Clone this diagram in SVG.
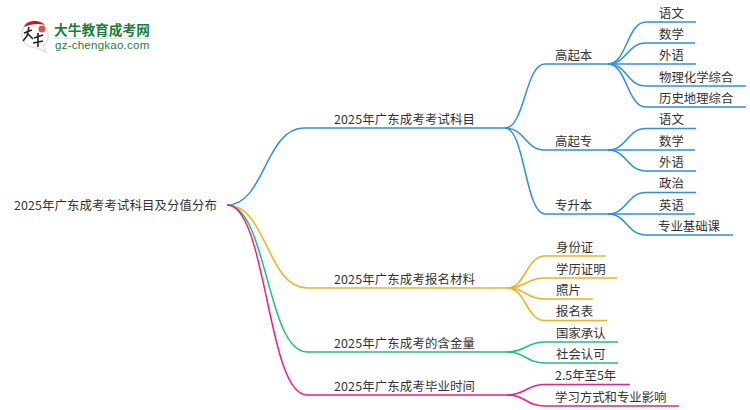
<svg xmlns="http://www.w3.org/2000/svg" width="750" height="410" viewBox="0 0 750 410">
<style>
text{font-family:"Noto Sans CJK SC","Liberation Sans",sans-serif;font-size:12.4px;fill:#333}
.c{fill:none;stroke-width:1.5}
.b{stroke:#2a8cff}.o{stroke:#fbae17}.g{stroke:#14c87a}.p{stroke:#fb1a7e}
</style>
<rect width="750" height="410" fill="#fff"/>
<g id="logo">
<path d="M33 21C26 21 22 27 22 34C22 43 29 48 37 48L46 52L43 46C47 43 49 39 48 33C47 26 41 21 33 21Z" fill="#fff" stroke="#ddd" stroke-width="1.2"/>
<path d="M24 27C27 20 39 19 45 25C38 23 31 24 24 27Z" fill="#c8161d"/>
<circle cx="42" cy="29" r="3.5" fill="#d9534f"/>
<path d="M24 33L32 30M29 27L27 36L23 41M28 34L33 39M34 38L43 35M38 33V47M33 43L43 41" fill="none" stroke="#222" stroke-width="1.6"/>
<text x="54" y="35" style="font-size:13.7px;font-weight:700;fill:#1a7f37">大牛教育成考网</text>
<rect x="54" y="38" width="96" height="1" fill="#dce8dc"/>
<text x="55" y="49" style="font-family:'Liberation Sans',sans-serif;font-size:11.5px;fill:#1a7f37;letter-spacing:.25px">gz-chengkao.com</text>
</g>
<g id="connectors">
<path class="c b" d="M227 205C265 205 265 128 304 128H505"/>
<path class="c o" d="M227 205C267 205 267 288 307 288H507"/>
<path class="c g" d="M227 205C267 205 267 352 307 352H507"/>
<path class="c p" d="M227 205C267 205 267 395 307 395H507"/>
<path class="c b" d="M505 128C525 128 525 64 545 64H608"/>
<path class="c b" d="M505 128C525 128 525 150 545 150H608"/>
<path class="c b" d="M505 128C525 128 525 214 545 214H608"/>
<path class="c b" d="M608 64C627 64 627 22 646 22H696"/>
<path class="c b" d="M608 64C627 64 627 43 646 43H695"/>
<path class="c b" d="M608 64H696"/>
<path class="c b" d="M608 64C627 64 627 86 646 86H746"/>
<path class="c b" d="M608 64C627 64 627 107 646 107H746"/>
<path class="c b" d="M608 150C627 150 627 128.500 646 128.500H696"/>
<path class="c b" d="M608 150H695"/>
<path class="c b" d="M608 150C627 150 627 171 646 171H696"/>
<path class="c b" d="M608 214C627 214 627 192.500 646 192.500H696"/>
<path class="c b" d="M608 214H695"/>
<path class="c b" d="M608 214C627 214 627 235 646 235H733"/>
<path class="c o" d="M507 288C526 288 526 256 545 256H606"/>
<path class="c o" d="M507 288C526 288 526 278 545 278H617"/>
<path class="c o" d="M507 288C526 288 526 299 545 299H593"/>
<path class="c o" d="M507 288C526 288 526 320.500 545 320.500H607"/>
<path class="c g" d="M507 352C526 352 526 342 545 342H618"/>
<path class="c g" d="M507 352C526 352 526 363 545 363H618"/>
<path class="c p" d="M507 395C526 395 526 384.500 545 384.500H630"/>
<path class="c p" d="M507 395C526 395 526 406 545 406H679"/>
</g>
<g id="root"><text x="14" y="209.500" textLength="203">2025年广东成考考试科目及分值分布</text></g>
<g id="n1"><text x="334" y="124" textLength="141">2025年广东成考考试科目</text></g>
<g id="n2"><text x="334" y="284" textLength="141">2025年广东成考报名材料</text></g>
<g id="n3"><text x="334" y="348" textLength="141">2025年广东成考的含金量</text></g>
<g id="n4"><text x="334" y="391" textLength="141">2025年广东成考毕业时间</text></g>
<g id="n11"><text x="555" y="60">高起本</text></g>
<g id="n12"><text x="555" y="146">高起专</text></g>
<g id="n13"><text x="555" y="210">专升本</text></g>
<g id="n111"><text x="659" y="18">语文</text></g>
<g id="n112"><text x="659" y="39">数学</text></g>
<g id="n113"><text x="659" y="60">外语</text></g>
<g id="n114"><text x="659" y="82">物理化学综合</text></g>
<g id="n115"><text x="659" y="103">历史地理综合</text></g>
<g id="n121"><text x="659" y="124">语文</text></g>
<g id="n122"><text x="659" y="146">数学</text></g>
<g id="n123"><text x="659" y="167">外语</text></g>
<g id="n131"><text x="659" y="188">政治</text></g>
<g id="n132"><text x="659" y="210">英语</text></g>
<g id="n133"><text x="658" y="231">专业基础课</text></g>
<g id="n21"><text x="556" y="252">身份证</text></g>
<g id="n22"><text x="556" y="274">学历证明</text></g>
<g id="n23"><text x="556" y="295">照片</text></g>
<g id="n24"><text x="556" y="316">报名表</text></g>
<g id="n31"><text x="556" y="338">国家承认</text></g>
<g id="n32"><text x="556" y="359">社会认可</text></g>
<g id="n41"><text x="555" y="380">2.5年至5年</text></g>
<g id="n42"><text x="555" y="402">学习方式和专业影响</text></g>
</svg>
